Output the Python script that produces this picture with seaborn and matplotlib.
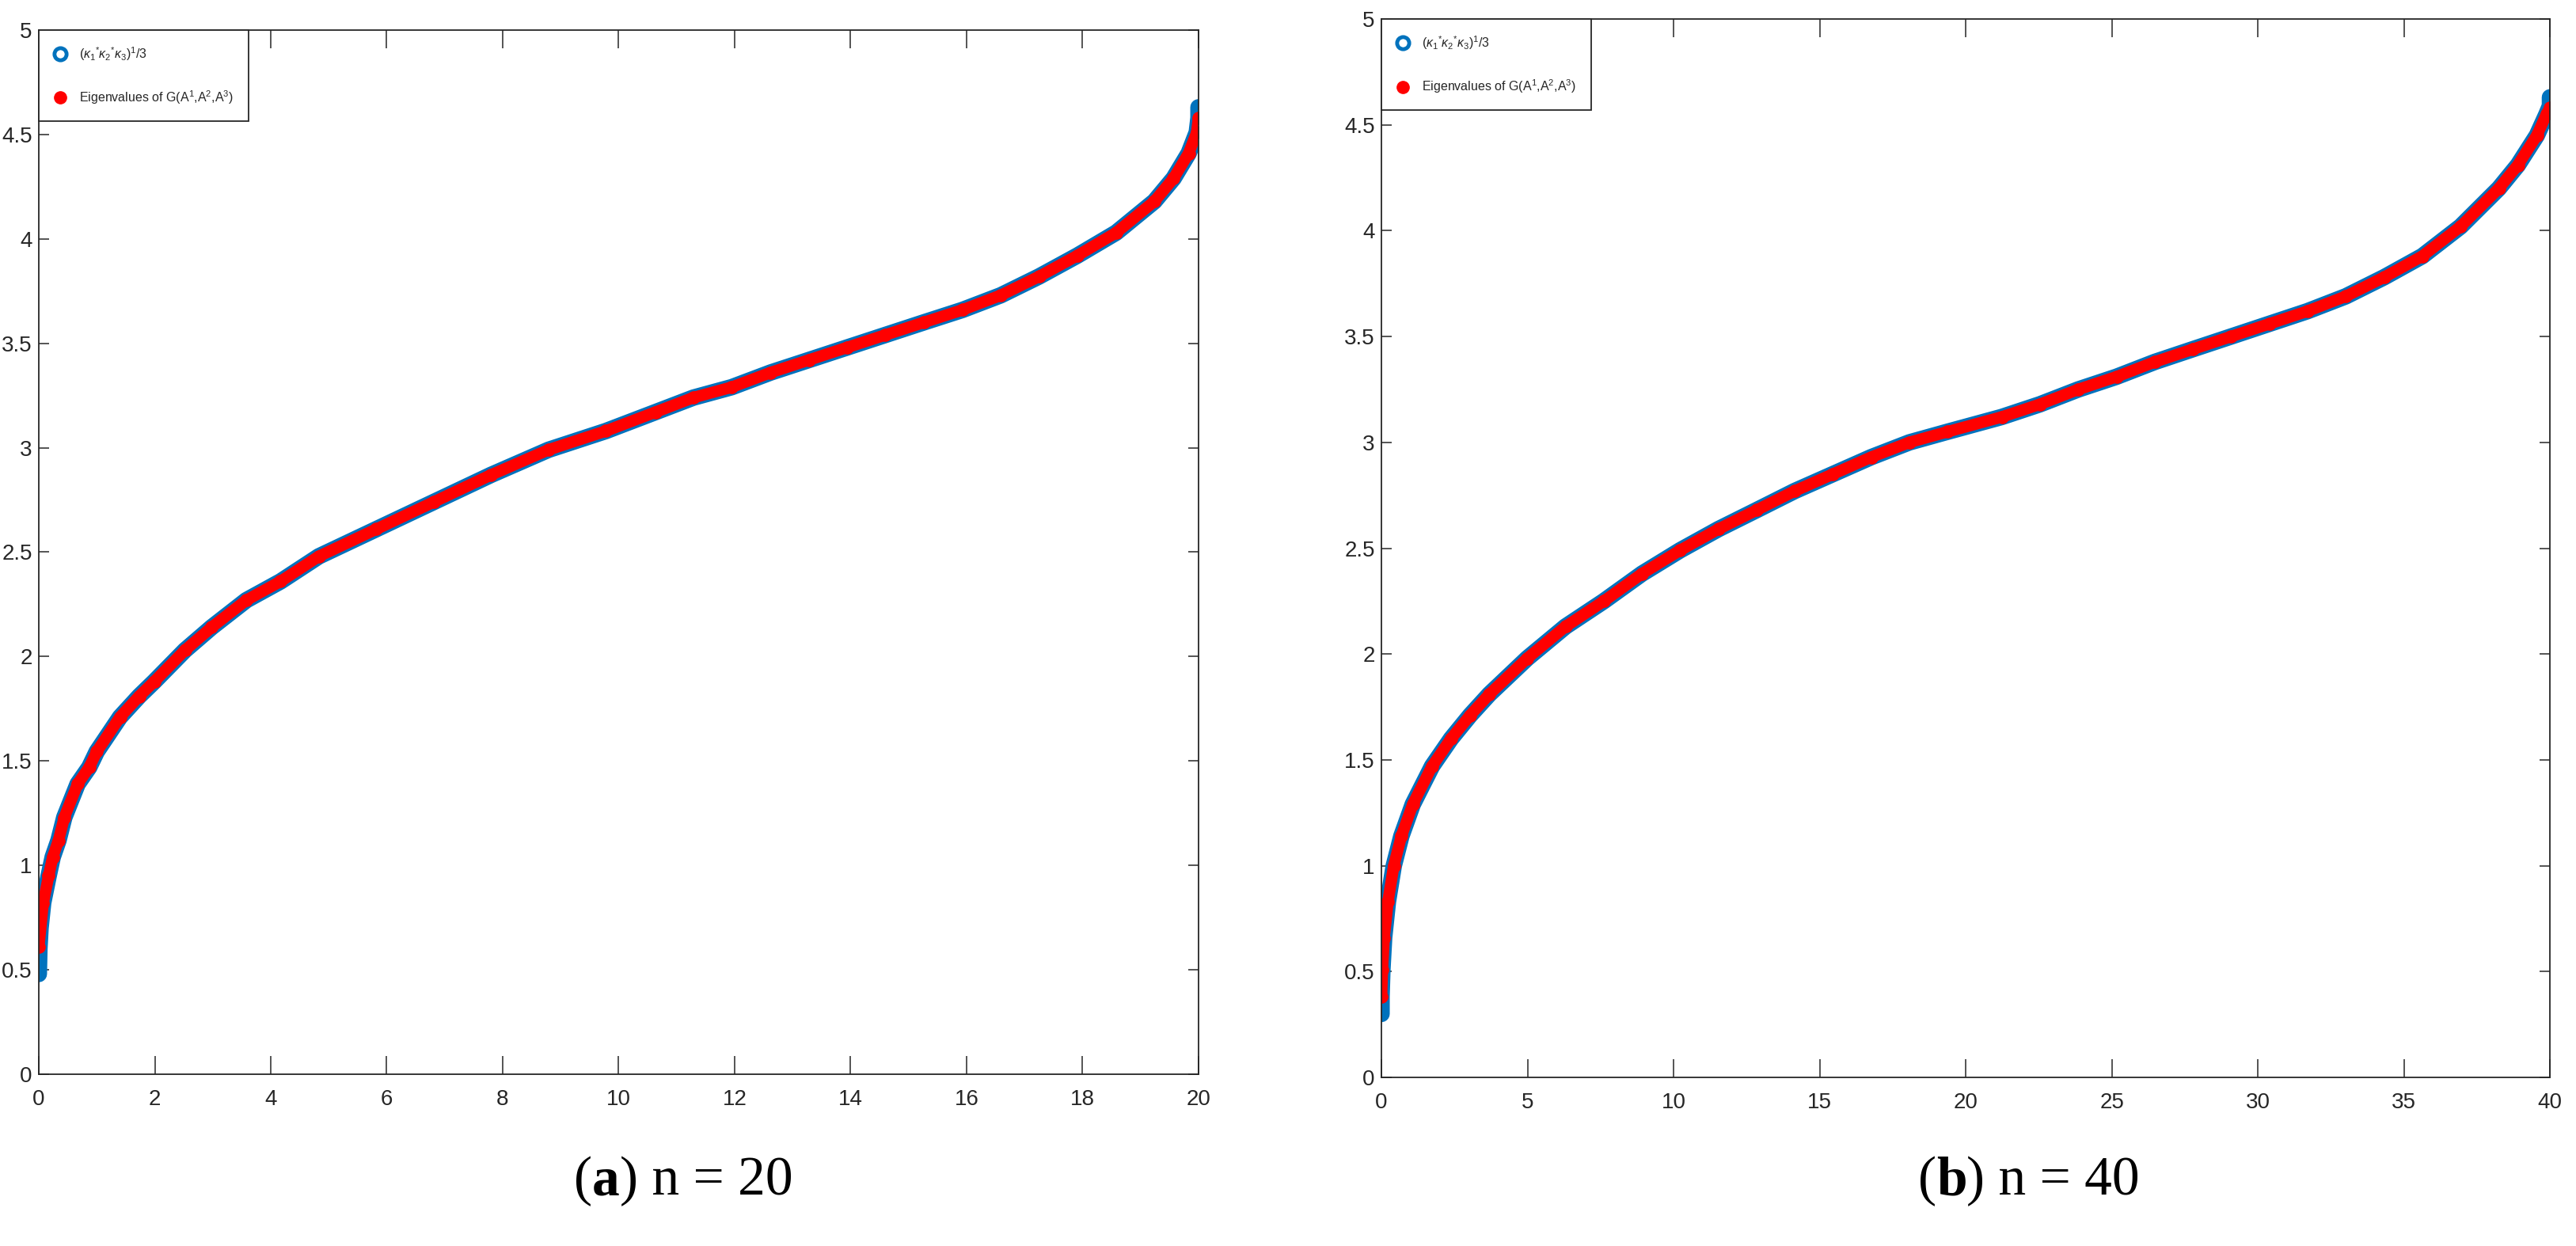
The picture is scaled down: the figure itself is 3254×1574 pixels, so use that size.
import matplotlib
matplotlib.use("Agg")
import matplotlib.pyplot as plt
import pandas as pd
import seaborn as sns
from matplotlib.lines import Line2D
from matplotlib.offsetbox import TextArea, HPacker, AnchoredOffsetbox

# values
# (a) n = 20
kap20_x = [0.0, 0.01, 0.03, 0.075, 0.17, 0.24, 0.34, 0.44, 0.67, 0.87, 1.0, 1.4, 1.73, 1.99,
           2.52, 2.98, 3.58, 4.17, 4.83, 5.82, 6.81, 7.8, 8.79, 9.78, 10.63, 11.29, 11.95,
           12.62, 13.28, 13.94, 14.6, 15.26, 15.93, 16.59, 17.25, 17.91, 18.58, 19.24,
           19.57, 19.83, 19.97, 20.0, 20.0]
kap20_y = [0.48, 0.6, 0.7, 0.82, 0.95, 1.04, 1.12, 1.23, 1.39, 1.47, 1.545, 1.71, 1.81, 1.88,
           2.03, 2.14, 2.27, 2.36, 2.48, 2.61, 2.74, 2.87, 2.99, 3.08, 3.17, 3.24, 3.29,
           3.36, 3.42, 3.48, 3.54, 3.60, 3.66, 3.73, 3.82, 3.92, 4.03, 4.18,
           4.29, 4.41, 4.51, 4.58, 4.63]
eig20_x = [0.0, 0.075, 0.17, 0.24, 0.34, 0.44, 0.67, 0.87, 1.0, 1.4, 1.73, 1.99,
           2.52, 2.98, 3.58, 4.17, 4.83, 5.82, 6.81, 7.8, 8.79, 9.78, 10.63, 11.29, 11.95,
           12.62, 13.28, 13.94, 14.6, 15.26, 15.93, 16.59, 17.25, 17.91, 18.58, 19.24,
           19.57, 19.83, 19.97, 20.0]
eig20_y = [0.61, 0.82, 0.95, 1.04, 1.12, 1.23, 1.39, 1.47, 1.545, 1.71, 1.81, 1.88,
           2.03, 2.14, 2.27, 2.36, 2.48, 2.61, 2.74, 2.87, 2.99, 3.08, 3.17, 3.24, 3.29,
           3.36, 3.42, 3.48, 3.54, 3.60, 3.66, 3.73, 3.82, 3.92, 4.03, 4.18,
           4.29, 4.41, 4.51, 4.58]

# (b) n = 40
kap40_x = [0.0, 0.0, 0.03, 0.09, 0.22, 0.42, 0.68, 1.07, 1.73, 2.38, 3.03, 3.69, 4.99, 6.3,
           7.61, 8.92, 10.22, 11.53, 12.84, 14.14, 15.45, 16.76, 18.07, 19.37, 21.23, 22.54,
           23.85, 25.16, 26.47, 27.77, 29.08, 30.39, 31.7, 33.01, 34.32, 35.63, 36.94,
           38.25, 38.9, 39.55, 39.88, 40.0, 40.0]
kap40_y = [0.3, 0.38, 0.51, 0.66, 0.83, 1.0, 1.14, 1.29, 1.47, 1.6, 1.71, 1.81, 1.98, 2.13,
           2.25, 2.38, 2.49, 2.59, 2.68, 2.77, 2.85, 2.93, 3.0, 3.05, 3.12, 3.18,
           3.25, 3.31, 3.38, 3.44, 3.5, 3.56, 3.62, 3.69, 3.78, 3.88, 4.02,
           4.2, 4.31, 4.45, 4.55, 4.59, 4.63]
eig40_x = [0.0, 0.03, 0.09, 0.22, 0.42, 0.68, 1.07, 1.73, 2.38, 3.03, 3.69, 4.99, 6.3,
           7.61, 8.92, 10.22, 11.53, 12.84, 14.14, 15.45, 16.76, 18.07, 19.37, 21.23, 22.54,
           23.85, 25.16, 26.47, 27.77, 29.08, 30.39, 31.7, 33.01, 34.32, 35.63, 36.94,
           38.25, 38.9, 39.55, 39.88, 40.0]
eig40_y = [0.38, 0.51, 0.66, 0.83, 1.0, 1.14, 1.29, 1.47, 1.6, 1.71, 1.81, 1.98, 2.13,
           2.25, 2.38, 2.49, 2.59, 2.68, 2.77, 2.85, 2.93, 3.0, 3.05, 3.12, 3.18,
           3.25, 3.31, 3.38, 3.44, 3.5, 3.56, 3.62, 3.69, 3.78, 3.88, 4.02,
           4.2, 4.31, 4.45, 4.55, 4.58]

xticks20 = [0, 2, 4, 6, 8, 10, 12, 14, 16, 18, 20]
xticks40 = [0, 5, 10, 15, 20, 25, 30, 35, 40]
yticks = [0, 0.5, 1, 1.5, 2, 2.5, 3, 3.5, 4, 4.5, 5]
ytick_labels = ["0", "0.5", "1", "1.5", "2", "2.5", "3", "3.5", "4", "4.5", "5"]
legend_labels = [r"$(\kappa_1{}^{*}\kappa_2{}^{*}\kappa_3)^{1}$/3",
                 r"Eigenvalues of G(A$^{1}$,A$^{2}$,A$^{3}$)"]
captions = [("a", " n = 20"), ("b", " n = 40")]

BLUE = "#0072BD"
RED = "#FF0000"
AXC = "#262626"

sns.set_theme(style="white")
plt.rcParams["font.family"] = ["Liberation Sans", "DejaVu Sans"]
plt.rcParams["mathtext.fontset"] = "custom"
plt.rcParams["mathtext.rm"] = "Liberation Sans"
plt.rcParams["mathtext.it"] = "Liberation Sans:italic"

fig = plt.figure(figsize=(32.54, 15.74), dpi=100)
ax_a = fig.add_axes([0.01506, 0.13787, 0.4502, 0.8380])
ax_b = fig.add_axes([0.5363, 0.13532, 0.4536, 0.8494])


def draw_panel(ax, kx, ky, ex, ey, n, xticks):
    kap = pd.DataFrame({"x": kx, "y": ky})
    eig = pd.DataFrame({"x": ex, "y": ey})
    sns.lineplot(data=kap, x="x", y="y", ax=ax, color=BLUE, linewidth=15,
                 sort=False, estimator=None, solid_capstyle="round",
                 solid_joinstyle="round")
    sns.lineplot(data=eig, x="x", y="y", ax=ax, color=RED, linewidth=10.5,
                 sort=False, estimator=None, solid_capstyle="round",
                 solid_joinstyle="round",
                 marker="o", markersize=12, markeredgewidth=0)
    ax.set_xlim(0, n)
    ax.set_ylim(0, 5)
    ax.set_xticks(xticks)
    ax.set_xticklabels([str(t) for t in xticks])
    ax.set_yticks(yticks)
    ax.set_yticklabels(ytick_labels)
    ax.set_xlabel("")
    ax.set_ylabel("")
    for sp in ax.spines.values():
        sp.set_visible(True)
        sp.set_color(AXC)
        sp.set_linewidth(1.3)
    ax.tick_params(axis="x", direction="in", top=True, bottom=True, length=16.5,
                   width=1.1, color=AXC, labelsize=20, pad=14, labelcolor=AXC)
    ax.tick_params(axis="y", direction="in", left=True, right=True, length=9.4,
                   width=1.1, color=AXC, labelsize=20, pad=6, labelcolor=AXC)

    handles = [
        Line2D([], [], marker="o", linestyle="none", markerfacecolor="none",
               markeredgecolor=BLUE, markeredgewidth=3.5, markersize=11),
        Line2D([], [], marker="o", linestyle="none", markerfacecolor=RED,
               markeredgecolor=RED, markersize=11),
    ]
    leg = ax.legend(handles, legend_labels, loc="upper left", borderaxespad=0,
                    frameon=True, fancybox=False, framealpha=1, edgecolor=AXC,
                    fontsize=11.5, handlelength=1.0, handletextpad=1.0,
                    labelspacing=2.1, borderpad=1.2)
    leg.get_frame().set_linewidth(1.3)


draw_panel(ax_a, kap20_x, kap20_y, eig20_x, eig20_y, 20, xticks20)
draw_panel(ax_b, kap40_x, kap40_y, eig40_x, eig40_y, 40, xticks40)

# sub-figure captions
for (tag, rest), xc in zip(captions, [0.2652, 0.7876]):
    parts = [
        TextArea("(", textprops=dict(family="Liberation Serif", size=50, color="black")),
        TextArea(tag, textprops=dict(family="Liberation Serif", size=50, weight="bold", color="black")),
        TextArea(")" + rest, textprops=dict(family="Liberation Serif", size=50, color="black")),
    ]
    box = HPacker(children=parts, align="baseline", pad=0, sep=0)
    anchored = AnchoredOffsetbox(loc="center", child=box, pad=0, frameon=False,
                                 bbox_to_anchor=(xc, 0.052),
                                 bbox_transform=fig.transFigure, borderpad=0)
    fig.add_artist(anchored)

fig.savefig("out.png", dpi=100, facecolor="white")
